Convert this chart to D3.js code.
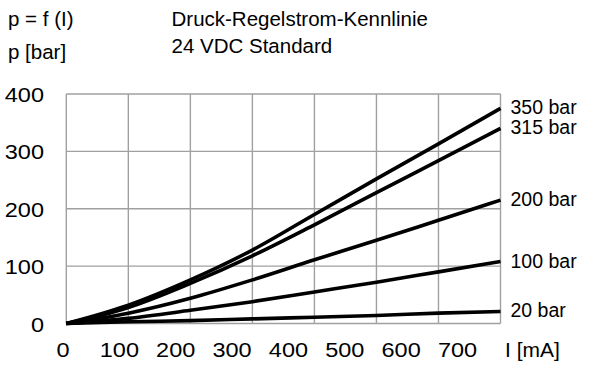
<!DOCTYPE html>
<html><head><meta charset="utf-8">
<script src="https://cdn.jsdelivr.net/npm/d3@7"></script>
<style>
body{margin:0;background:#fff;}
text{font-family:"Liberation Sans",Arial,sans-serif;fill:#000;}
</style></head>
<body><svg id="c" width="615" height="376"></svg>
<script>
const currents = [0, 100, 200, 300, 400, 500, 600, 700];
const p350 = [0, 32, 76, 128, 190, 252, 313, 375];
const p315 = [0, 28, 70, 118, 172, 228, 284, 340];
const p200 = [0, 18, 44, 76, 111, 145, 180, 215];
const p100 = [0, 9, 23, 38, 55, 72, 90, 108];
const p20  = [0, 3, 5, 8, 11, 14, 18, 21];
const seriesNames = ["350 bar", "315 bar", "200 bar", "100 bar", "20 bar"];
const seriesValues = [p350, p315, p200, p100, p20];
const xTickLabels = ["0", "100", "200", "300", "400", "500", "600", "700"];
const yTicks = [0, 100, 200, 300, 400];

const svg = d3.select("#c");
const x = d3.scaleLinear().domain([0, 700]).range([66.3, 500.5]);
const y = d3.scaleLinear().domain([0, 400]).range([323.5, 94]);
const xLab = d3.scalePoint().domain(xTickLabels).range([63, 457.5]);

// grid
const grid = svg.append("g").attr("stroke", "#a0a0a0").attr("stroke-width", 1.4);
grid.selectAll("line.v").data(d3.range(0, 701, 100)).enter().append("line")
  .attr("x1", d => x(d)).attr("x2", d => x(d)).attr("y1", y(0)).attr("y2", y(400));
grid.selectAll("line.h").data(yTicks).enter().append("line")
  .attr("x1", x(0)).attr("x2", x(700)).attr("y1", d => y(d)).attr("y2", d => y(d));

// y tick labels
svg.append("g").selectAll("text").data(yTicks).enter().append("text")
  .attr("transform", d => `translate(44,${y(d) + 8}) scale(1.12,1)`)
  .attr("text-anchor", "end").attr("font-size", 21).text(d => d);

// x tick labels
svg.append("g").selectAll("text").data(xTickLabels).enter().append("text")
  .attr("transform", d => `translate(${xLab(d)},357) scale(1.12,1)`)
  .attr("text-anchor", "middle").attr("font-size", 21).text(d => d);

// lines
const line = d3.line().x((d, i) => x(currents[i])).y(d => y(d)).curve(d3.curveMonotoneX);
svg.append("g").selectAll("path").data(seriesValues).enter().append("path")
  .attr("d", line).attr("fill", "none").attr("stroke", "#000").attr("stroke-width", 3.6);

// series labels
svg.append("g").selectAll("text").data(seriesValues).enter().append("text")
  .attr("x", x(700) + 10).attr("y", d => y(d[d.length - 1]) + 6)
  .attr("font-size", 19.5).text((d, i) => seriesNames[i]);

// texts
svg.append("text").attr("x", 8).attr("y", 26).attr("font-size", 20.5).text("p = f (I)");
svg.append("text").attr("x", 8).attr("y", 58.5).attr("font-size", 20.5).text("p [bar]");
svg.append("text").attr("x", 171.5).attr("y", 26).attr("font-size", 20.5).text("Druck-Regelstrom-Kennlinie");
svg.append("text").attr("x", 171.5).attr("y", 52.5).attr("font-size", 20.5).text("24 VDC Standard");
svg.append("text").attr("x", 505).attr("y", 357).attr("font-size", 21).text("I [mA]");
</script></body></html>
